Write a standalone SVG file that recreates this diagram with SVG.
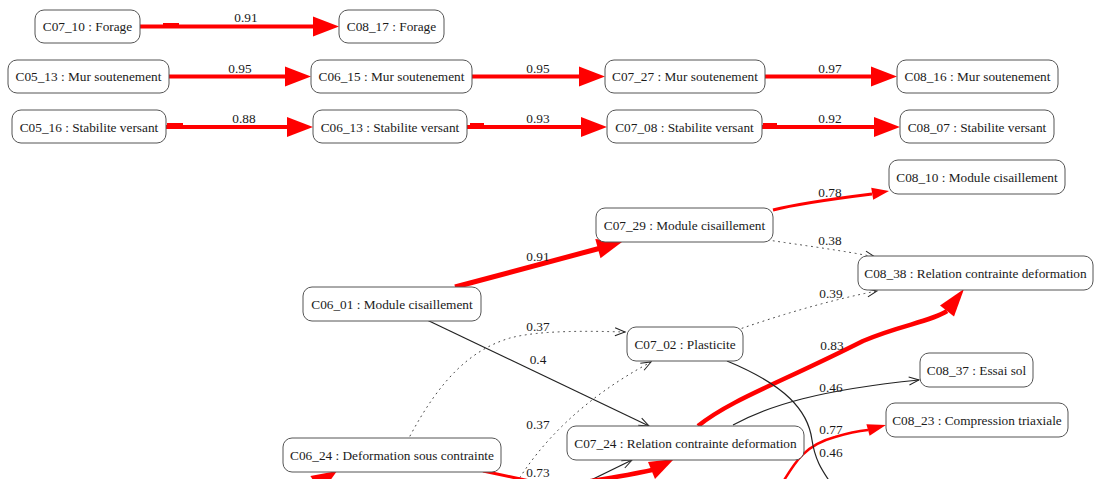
<svg xmlns="http://www.w3.org/2000/svg" width="1094" height="479" viewBox="0 0 1094 479">
<defs>
<marker id="vee" markerUnits="userSpaceOnUse" markerWidth="12" markerHeight="10" refX="10" refY="4" orient="auto" overflow="visible">
<path d="M0,0 L10,4 L0,8" fill="none" stroke="#222" stroke-width="1"/>
</marker>
</defs>
<style>
.box{fill:#fff;stroke:#555;stroke-width:1}
.t{font-family:"Liberation Serif","Times New Roman",serif;font-size:13.3px;fill:#1a1a1a;text-anchor:middle}
.red{stroke:#f00;fill:none}
.rh{fill:#f00}
.blk{stroke:#222;stroke-width:1.2;fill:none}
.dot{stroke:#444;stroke-width:1;fill:none;stroke-dasharray:1 4.5;stroke-linecap:round}
</style>
<rect width="1094" height="479" fill="#fff"/>
<g id="edges">
<!-- row 1 -->
<path class="red" stroke-width="4" d="M140,26.5 H314"/>
<polygon class="rh" points="339,26.5 313,16.5 313,36.5"/>
<rect class="rh" x="163" y="23" width="16" height="3"/>
<text class="t" x="246" y="22">0.91</text>
<!-- row 2 -->
<path class="red" stroke-width="4" d="M169,76.5 H286"/>
<polygon class="rh" points="311,76.5 285,66.5 285,86.5"/>
<text class="t" x="240" y="73">0.95</text>
<path class="red" stroke-width="4" d="M472,76.5 H580"/>
<polygon class="rh" points="605,76.5 579,66.5 579,86.5"/>
<text class="t" x="538" y="73">0.95</text>
<path class="red" stroke-width="4" d="M765,76.5 H872"/>
<polygon class="rh" points="897,76.5 871,66.5 871,86.5"/>
<text class="t" x="830" y="73">0.97</text>
<!-- row 3 -->
<path class="red" stroke-width="4" d="M166,127 H288"/>
<polygon class="rh" points="313,127 287,117 287,137"/>
<rect class="rh" x="167" y="123" width="16" height="3"/>
<text class="t" x="244" y="123">0.88</text>
<path class="red" stroke-width="4" d="M467,127 H582"/>
<polygon class="rh" points="607,127 581,117 581,137"/>
<rect class="rh" x="470" y="123" width="14" height="3"/>
<text class="t" x="538" y="123">0.93</text>
<path class="red" stroke-width="4" d="M762,127 H875"/>
<polygon class="rh" points="900,127 874,117 874,137"/>
<rect class="rh" x="763" y="123" width="14" height="3"/>
<text class="t" x="830" y="123">0.92</text>
<!-- lower graph -->
<path class="red" stroke-width="3" d="M773,210 Q800,203 872,194"/>
<polygon class="rh" points="889,191 873.2,199.7 871.2,187.8"/>
<text class="t" x="830" y="197">0.78</text>
<path class="dot" d="M768,240 C800,245 840,250 875,257" marker-end="url(#vee)"/>
<text class="t" x="830" y="245">0.38</text>
<path class="red" stroke-width="5" d="M455,287 L599,248.5"/>
<polygon class="rh" points="622,242 600.5,258.2 595.3,238.9"/>
<text class="t" x="538" y="261">0.91</text>
<path class="dot" d="M737,330 C780,315 830,300 877,291" marker-end="url(#vee)"/>
<text class="t" x="831" y="298">0.39</text>
<path class="dot" d="M410,436 C440,380 470,350 510,338 C540,330 590,331 625,332" marker-end="url(#vee)"/>
<text class="t" x="538" y="331">0.37</text>
<path class="blk" d="M427,320 L649,426" marker-end="url(#vee)"/>
<text class="t" x="538" y="364">0.4</text>
<path class="dot" d="M517,482 C540,445 580,400 651,362" marker-end="url(#vee)"/>
<text class="t" x="538" y="429">0.37</text>
<path class="red" stroke-width="4.5" d="M698,426 C730,400 780,383 863,341 C900,325 930,322 947,311"/>
<polygon class="rh" points="964,289 954,316.5 940,305.5"/>
<text class="t" x="832" y="350">0.83</text>
<path class="blk" d="M733,425 C770,405 820,390 919,380" marker-end="url(#vee)"/>
<text class="t" x="831" y="392">0.46</text>
<path class="red" stroke-width="2.5" d="M783,482 C795,462 805,445 835,437 C848,433 858,431 868,430"/>
<polygon class="rh" points="886,425 869.6,435.8 866.4,424.2"/>
<text class="t" x="831" y="434">0.77</text>
<path class="blk" d="M727,361 C785,385 808,410 812,440 C815,460 822,470 830,482"/>
<text class="t" x="831" y="457">0.46</text>
<path class="red" stroke-width="3" d="M483,471 L530,481"/>
<polygon class="rh" points="337,471 310.4,476 321.2,493"/>
<path class="blk" d="M587,482 L632,460" marker-end="url(#vee)"/>
<path class="red" stroke-width="4.5" d="M585,482 C610,478 630,475 652,470"/>
<polygon class="rh" points="674,459 655,479 648,462"/>
<text class="t" x="538" y="477">0.73</text>
</g>
<g id="n_C07_10"><rect class="box" x="35" y="10" width="105" height="33" rx="9"/><text class="t" x="87.5" y="31">C07_10 : Forage</text></g>
<g id="n_C08_17"><rect class="box" x="339" y="10" width="105" height="33" rx="9"/><text class="t" x="391.5" y="31">C08_17 : Forage</text></g>
<g id="n_C05_13"><rect class="box" x="8" y="60" width="161" height="33" rx="9"/><text class="t" x="88.5" y="81">C05_13 : Mur soutenement</text></g>
<g id="n_C06_15"><rect class="box" x="311" y="60" width="161" height="33" rx="9"/><text class="t" x="391.5" y="81">C06_15 : Mur soutenement</text></g>
<g id="n_C07_27"><rect class="box" x="605" y="60" width="160" height="33" rx="9"/><text class="t" x="685" y="81">C07_27 : Mur soutenement</text></g>
<g id="n_C08_16"><rect class="box" x="897" y="60" width="161" height="33" rx="9"/><text class="t" x="977.5" y="81">C08_16 : Mur soutenement</text></g>
<g id="n_C05_16"><rect class="box" x="12" y="110" width="154" height="33" rx="9"/><text class="t" x="89" y="131.5">C05_16 : Stabilite versant</text></g>
<g id="n_C06_13"><rect class="box" x="313" y="110" width="154" height="33" rx="9"/><text class="t" x="390" y="131.5">C06_13 : Stabilite versant</text></g>
<g id="n_C07_08"><rect class="box" x="607" y="110" width="155" height="33" rx="9"/><text class="t" x="684.5" y="131.5">C07_08 : Stabilite versant</text></g>
<g id="n_C08_07"><rect class="box" x="900" y="110" width="154" height="33" rx="9"/><text class="t" x="977" y="131.5">C08_07 : Stabilite versant</text></g>
<g id="n_C08_10"><rect class="box" x="889" y="160" width="176" height="34" rx="9"/><text class="t" x="977" y="181.5">C08_10 : Module cisaillement</text></g>
<g id="n_C07_29"><rect class="box" x="596" y="208" width="177" height="34" rx="9"/><text class="t" x="684.5" y="229.5">C07_29 : Module cisaillement</text></g>
<g id="n_C08_38"><rect class="box" x="858" y="256" width="235" height="34" rx="9"/><text class="t" x="975.5" y="277.5">C08_38 : Relation contrainte deformation</text></g>
<g id="n_C06_01"><rect class="box" x="303" y="287" width="178" height="34" rx="9"/><text class="t" x="392" y="308.5">C06_01 : Module cisaillement</text></g>
<g id="n_C07_02"><rect class="box" x="627" y="327" width="116" height="34" rx="9"/><text class="t" x="685" y="348.5">C07_02 : Plasticite</text></g>
<g id="n_C08_37"><rect class="box" x="920" y="353" width="113" height="34" rx="9"/><text class="t" x="976.5" y="374.5">C08_37 : Essai sol</text></g>
<g id="n_C08_23"><rect class="box" x="886" y="403" width="182" height="34" rx="9"/><text class="t" x="977" y="424.5">C08_23 : Compression triaxiale</text></g>
<g id="n_C07_24"><rect class="box" x="567" y="426" width="237" height="34" rx="9"/><text class="t" x="685.5" y="447.5">C07_24 : Relation contrainte deformation</text></g>
<g id="n_C06_24"><rect class="box" x="283" y="438" width="218" height="34" rx="9"/><text class="t" x="392" y="459.5">C06_24 : Deformation sous contrainte</text></g>
</svg>
